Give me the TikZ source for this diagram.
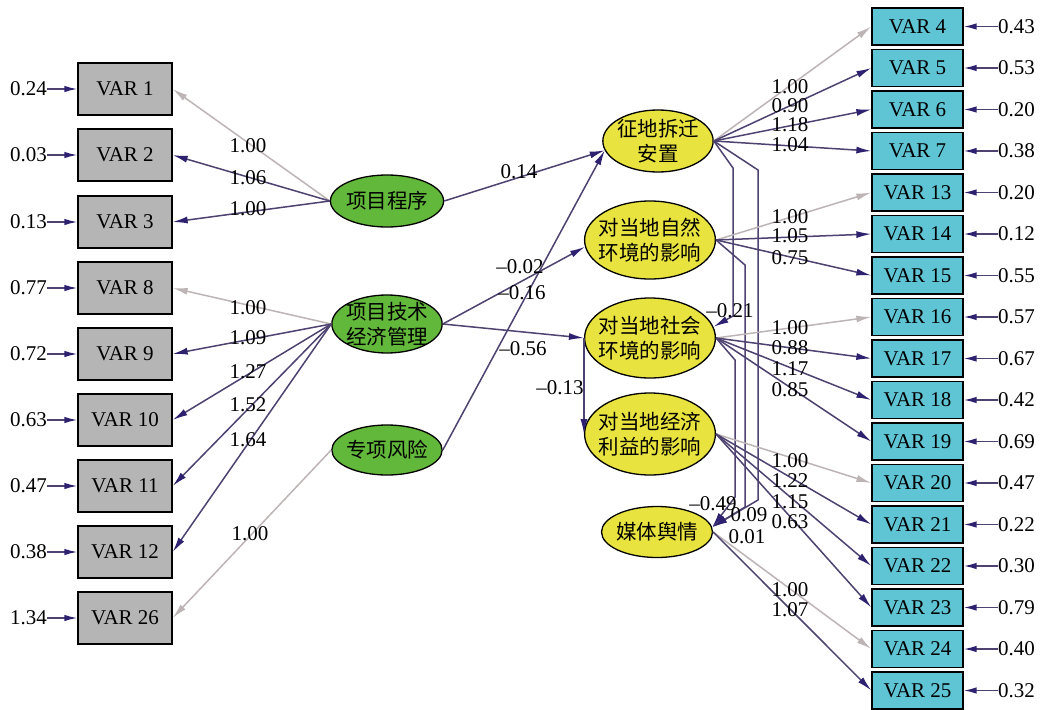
\documentclass[tikz,border=0pt]{standalone}
\usepackage{fontspec}
\setmainfont{Liberation Serif}
\newfontfamily\zhfont{Noto Sans CJK SC}
\usetikzlibrary{arrows.meta,shapes.geometric}
\definecolor{boxgray}{HTML}{B5B5B5}
\definecolor{boxcyan}{HTML}{5FC5D5}
\definecolor{elgreen}{HTML}{62B83A}
\definecolor{elyellow}{HTML}{E9E33F}
\definecolor{linec}{HTML}{4D4270}
\definecolor{headc}{HTML}{2E2270}
\definecolor{lgray}{HTML}{BDB5B5}
\newcommand{\numfont}{\fontsize{21}{25}\selectfont}
\begin{document}
\begin{tikzpicture}[x=1pt,y=-1pt,
  every node/.style={inner sep=0pt},
  obsbox/.style={draw=black, line width=1.3pt, minimum width=94pt, minimum height=52pt, font=\numfont},
  lbox/.style={obsbox, fill=boxgray},
  rbox/.style={obsbox, fill=boxcyan, minimum width=91pt, minimum height=37pt},
  latent/.style={ellipse, draw=black, line width=1.3pt, align=center, font=\zhfont\fontsize{20.5}{25}\selectfont},
  glat/.style={latent, fill=elgreen},
  ylat/.style={latent, fill=elyellow},
  num/.style={font=\numfont},
  arr/.style={draw=linec, line width=1.5pt, -{Latex[length=15pt,width=7pt,color=headc]}},
  garr/.style={draw=lgray, line width=1.5pt, -{Latex[length=15pt,width=7pt,color=lgray]}},
  earr/.style={draw=linec, line width=1.5pt, -{Latex[length=13pt,width=6.5pt,color=headc]}},
]
\fill[white] (0,0) rectangle (1043,709);
\useasboundingbox (0,0) rectangle (1043,709);

% left observed variables
\foreach \n/\y/\e in {1/89/0.24, 2/155/0.03, 3/222/0.13, 8/288/0.77, 9/354/0.72, 10/420/0.63, 11/486/0.47, 12/552/0.38, 26/618/1.34} {
  \node[lbox] (v\n) at (125,\y) {VAR \n};
  \node[num, anchor=east] (e\n) at (47,\y) {\e};
  \draw[earr] (e\n) -- (v\n);
}
% right observed variables
\foreach \n/\y/\e in {4/26.5/0.43, 5/68/0.53, 6/109.5/0.20, 7/151/0.38, 13/192.5/0.20, 14/234/0.12, 15/275.5/0.55, 16/317/0.57, 17/358.5/0.67, 18/400/0.42, 19/441.5/0.69, 20/483/0.47, 21/524.5/0.22, 22/566/0.30, 23/607.5/0.79, 24/649/0.40, 25/690.5/0.32} {
  \node[rbox] (v\n) at (917.5,\y) {VAR \n};
  \node[num, anchor=west] (e\n) at (998,\y) {\e};
  \draw[earr] (e\n) -- (v\n);
}

% latent variables
\node[glat, minimum width=113pt, minimum height=52pt, inner xsep=-1pt] (lp) at (387,201) {项目程序};
\node[glat, minimum width=110pt, minimum height=58pt, inner xsep=-2pt, inner ysep=-3pt] (lt) at (387,324) {项目技术\\经济管理};
\node[glat, minimum width=110pt, minimum height=50pt, inner xsep=-2pt] (lr) at (387,450) {专项风险};
\node[ylat, minimum width=110pt, minimum height=62pt, inner xsep=-2pt, inner ysep=-3pt] (zd) at (658,141) {征地拆迁\\安置};
\node[ylat, minimum width=128pt, minimum height=78pt, inner xsep=-5pt, inner ysep=-3pt] (zr) at (650,240) {对当地自然\\环境的影响};
\node[ylat, minimum width=130pt, minimum height=80pt, inner xsep=-5pt, inner ysep=-3pt] (sh) at (650,338) {对当地社会\\环境的影响};
\node[ylat, minimum width=130pt, minimum height=82pt, inner xsep=-5pt, inner ysep=-3pt] (jj) at (650,434) {对当地经济\\利益的影响};
\node[ylat, minimum width=111pt, minimum height=51pt, inner xsep=-2pt] (mt) at (657,532) {媒体舆情};

% left measurement paths
\draw[garr] (lp.west) -- (v1.east);
\draw[arr] (lp.west) -- (v2.east);
\draw[arr] (lp.west) -- (v3.east);
\draw[garr] (lt.west) -- (v8.east);
\foreach \n in {9,10,11,12} \draw[arr] (lt.west) -- (v\n.east);
\draw[garr] (lr.west) -- (v26.east);

% structural paths
\draw[arr] (lp.east) -- (zd.190);
\draw[arr] (lr.east) -- (zd.190);
\draw[arr] (lt.east) -- (zr.186);
\draw[arr] (lt.east) -- (sh.west);
\draw[arr] (sh.west) -- (jj.west);
\draw[arr] (zd.east) -- (733,168) -- (733,316) -- (sh.10);
\draw[arr] (zd.east) -- (758,170) -- (758,500) -- (mt.5);
\draw[arr] (zr.east) -- (745,265) -- (745,507) -- (mt.5);
\draw[arr] (sh.east) -- (735,360) -- (735,497) -- (mt.5);

% right measurement paths
\draw[garr] (zd.east) -- (v4.west);
\foreach \n in {5,6,7} \draw[arr] (zd.east) -- (v\n.west);
\draw[garr] (zr.east) -- (v13.west);
\foreach \n in {14,15} \draw[arr] (zr.east) -- (v\n.west);
\draw[garr] (sh.east) -- (v16.west);
\foreach \n in {17,18,19} \draw[arr] (sh.east) -- (v\n.west);
\draw[garr] (jj.east) -- (v20.west);
\foreach \n in {21,22,23} \draw[arr] (jj.east) -- (v\n.west);
\draw[garr] (mt.east) -- (v24.west);
\draw[arr] (mt.east) -- (v25.west);

% path coefficients
\foreach \i/\x/\y/\t in {
  a1/248/146/1.00, a2/248/178/1.06, a3/248/209/1.00,
  a4/248/308/1.00, a5/248/338/1.09, a6/248/372/1.27, a7/248/405/1.52, a8/248/440/1.64,
  a9/250/534/1.00,
  b1/519/172/0.14, b2/520/267/–0.02, b3/522/293/–0.16, b4/523/349/–0.56, b5/560/388/–0.13,
  b6/730/311/–0.21, b7/713/504/–0.49, b8/749/515/0.09, b9/747/537/0.01,
  c1/790/87/1.00, c2/790/106/0.90, c3/790/125/1.18, c4/790/145/1.04,
  c5/790/217/1.00, c6/790/236/1.05, c7/790/258/0.75,
  c8/790/328/1.00, c9/790/348/0.88, c10/790/369/1.17, c11/790/390/0.85,
  c12/790/461/1.00, c13/790/481/1.22, c14/790/502/1.15, c15/790/522/0.63,
  c16/790/590/1.00, c17/790/610/1.07}
  \node[num] (\i) at (\x,\y) {\t};
\end{tikzpicture}
\end{document}
